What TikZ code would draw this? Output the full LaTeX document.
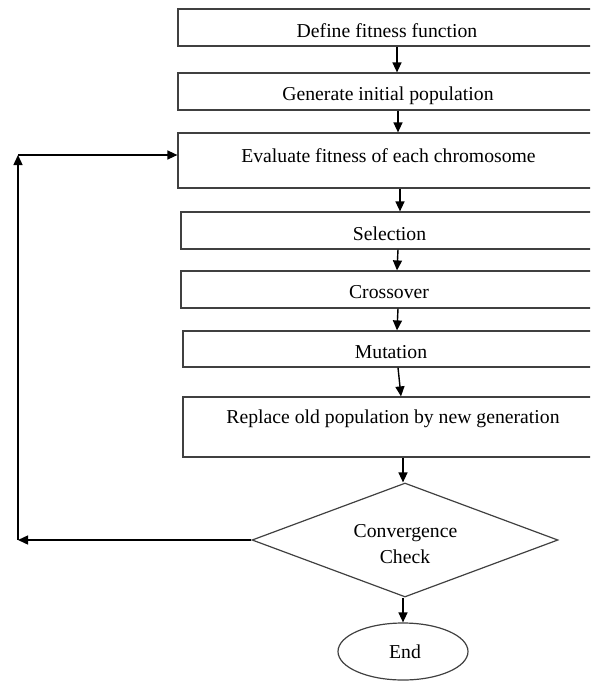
\documentclass[tikz,border=0pt]{standalone}
\usepackage{fontspec}
\setmainfont{Liberation Serif}
\usetikzlibrary{shapes.geometric,arrows.meta}
\begin{document}
\begin{tikzpicture}[x=1pt,y=-1pt,
  box/.style={draw=black!75,line width=1.2pt,rectangle,inner sep=0pt},
  lbl/.style={anchor=base,inner sep=0pt,font=\fontsize{19.7}{26}\selectfont},
  arr/.style={draw=black,line width=1.4pt,-{Triangle[length=10pt,width=9pt]}}
]
\useasboundingbox (0,0) rectangle (590,681);
\clip (0,0) rectangle (590,681);
% boxes
\node[box,minimum width=418,minimum height=37] (b1) at (387,27.5) {};
\node[box,minimum width=418,minimum height=37] (b2) at (387,91.5) {};
\node[box,minimum width=418,minimum height=55] (b3) at (387,160.5) {};
\node[box,minimum width=415,minimum height=37] (b4) at (388.5,230.5) {};
\node[box,minimum width=415,minimum height=37] (b5) at (388.5,289.5) {};
\node[box,minimum width=413,minimum height=36] (b6) at (389.5,349) {};
\node[box,minimum width=413,minimum height=60] (b7) at (389.5,427) {};
\node[box,diamond,minimum width=306,minimum height=114] (d) at (405,540) {};
\node[box,ellipse,minimum width=130,minimum height=57] (e) at (403,651.5) {};
% texts
\node[lbl] (t1) at (387,37) {Define fitness function};
\node[lbl] (t2) at (388,100) {Generate initial population};
\node[lbl] (t3) at (388.5,162) {Evaluate fitness of each chromosome};
\node[lbl] (t4) at (389.5,240) {Selection};
\node[lbl] (t5) at (389,298) {Crossover};
\node[lbl] (t6) at (391,358) {Mutation};
\node[lbl] (t7) at (393,423) {Replace old population by new generation};
\node[lbl] (t8) at (405.5,537) {Convergence};
\node[lbl] (t9) at (405,563) {Check};
\node[lbl] (t10) at (405,658) {End};
% arrows
\draw[arr] ([xshift=10]b1.south) -- ([xshift=10]b2.north);
\draw[arr] ([xshift=11]b2.south) -- ([xshift=11]b3.north);
\draw[arr] ([xshift=13]b3.south) -- ([xshift=11.5]b4.north);
\draw[arr] ([xshift=9.5]b4.south) -- ([xshift=8.5]b5.north);
\draw[arr] ([xshift=9.5]b5.south) -- ([xshift=7.5]b6.north);
\draw[arr] ([xshift=8.5]b6.south) -- ([xshift=11.5]b7.north);
\draw[arr] (e.north |- b7.south) -- ([xshift=-2]d.north);
\draw[arr] (e.north |- d.south) -- (e.north);
% loop back
\coordinate (c1) at (18,540);
\coordinate (c2) at (18,155);
\draw[arr] (d.west) -- (c1);
\draw[arr] (c1) -- (c2);
\draw[arr] (c2) -- (c2 -| b3.west);
\end{tikzpicture}
\end{document}
